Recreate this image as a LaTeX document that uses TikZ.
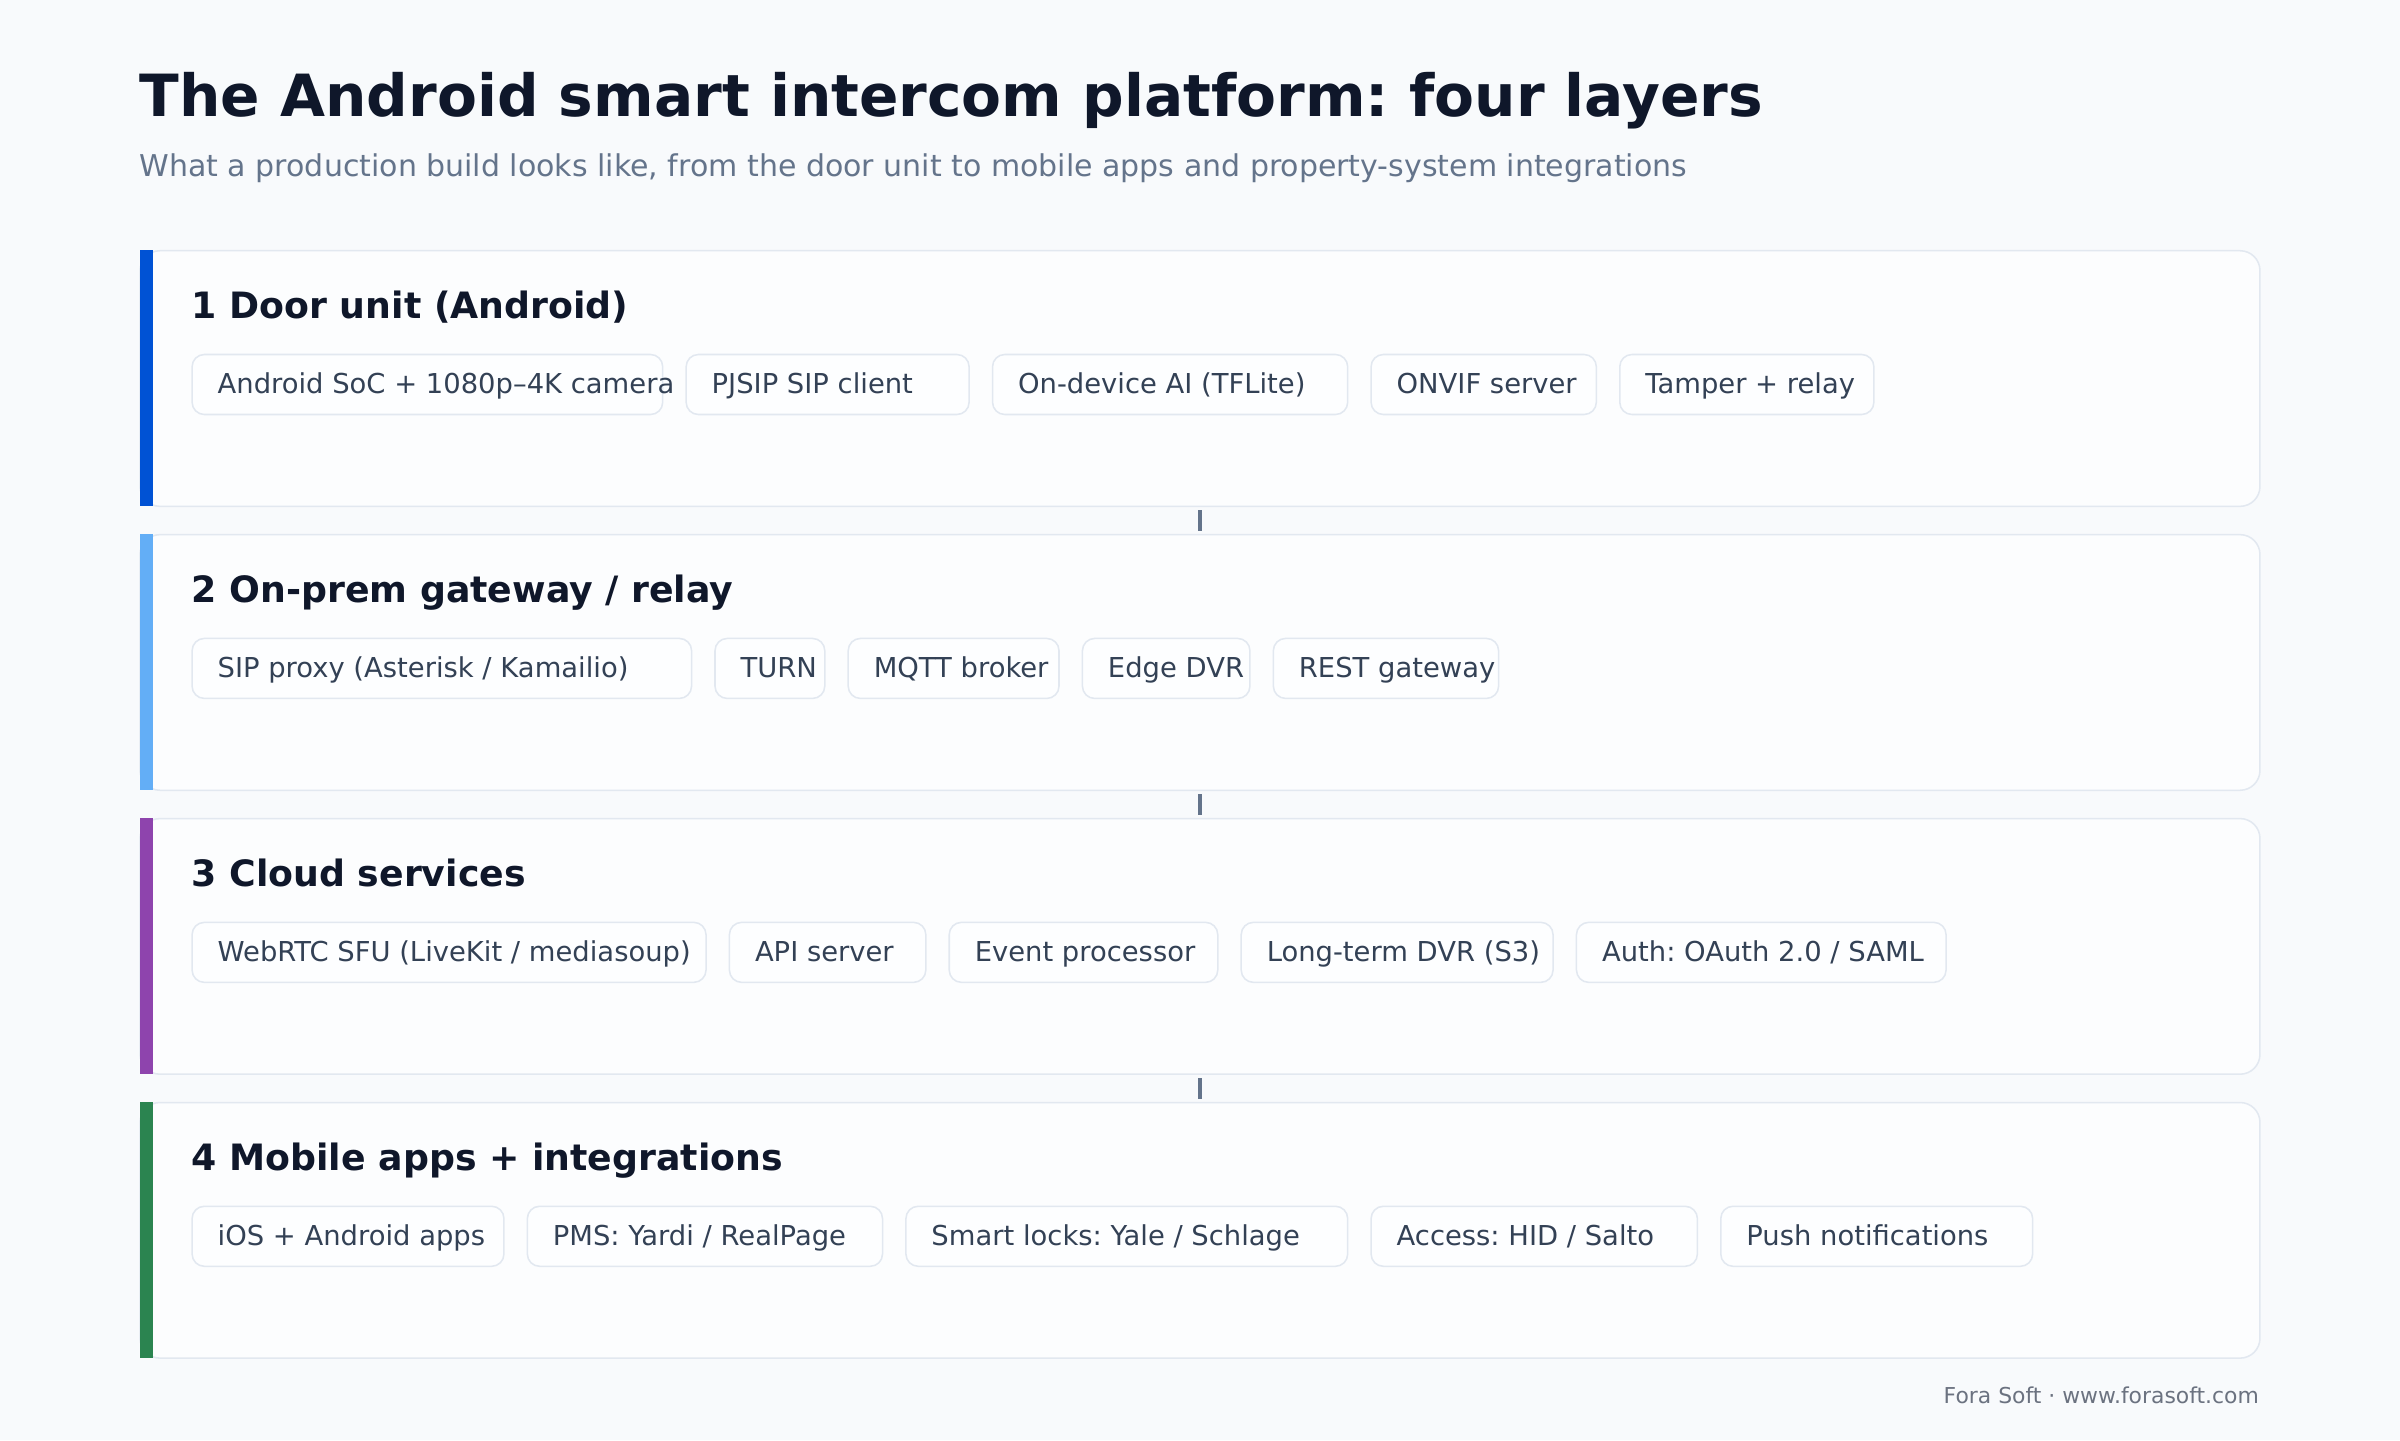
\documentclass[tikz,border=0pt]{standalone}
\usepackage{fontspec}
\setmainfont{DejaVu Sans}
\usetikzlibrary{calc}
\frenchspacing
\definecolor{bg}{HTML}{F8FAFC}
\definecolor{cardfill}{HTML}{FCFDFE}
\definecolor{chipfill}{HTML}{FDFEFF}
\definecolor{cardline}{HTML}{E2E8F0}
\definecolor{ink}{HTML}{0F172A}
\definecolor{subink}{HTML}{64748B}
\definecolor{chipink}{HTML}{334155}
\definecolor{footink}{HTML}{6B7280}
\definecolor{slate}{HTML}{64748B}
\definecolor{barA}{HTML}{0052D4}
\definecolor{barB}{HTML}{63AEF6}
\definecolor{barC}{HTML}{8E44AD}
\definecolor{barD}{HTML}{2B8450}
\newcommand\mkchip[5]{%
  \node[chip, minimum width=#4pt] (#1) at (#2,#3) {};
  \node[chiptext] (#1t) at ([xshift=17pt,yshift=-26.1pt]#1.north west) {#5};
}
\begin{document}
\begin{tikzpicture}[x=1pt,y=-1pt,
  card/.style={draw=cardline, line width=1pt, fill=cardfill, rounded corners=13pt, inner sep=0pt,
    minimum width=1385pt, minimum height=167pt, anchor=north west},
  bar/.style={fill=#1, draw=none, inner sep=0pt, minimum width=9pt, minimum height=167pt, anchor=north west},
  chip/.style={draw=cardline, line width=1pt, fill=chipfill, rounded corners=8pt, inner sep=0pt,
    minimum height=39.2pt, anchor=north west},
  chiptext/.style={font=\fontsize{17.9}{20}\selectfont, text=chipink, inner sep=0pt, anchor=base west},
  heading/.style={font=\fontsize{23.7}{28}\selectfont\bfseries, text=ink, inner sep=0pt, anchor=base west},
  titletext/.style={font=\fontsize{38}{44}\selectfont\bfseries, text=ink, inner sep=0pt, anchor=base west},
  subtext/.style={font=\fontsize{19.6}{23}\selectfont, text=subink, inner sep=0pt, anchor=base west},
  foottext/.style={font=\fontsize{14.3}{17}\selectfont, text=footink, inner sep=0pt, anchor=base east},
  conn/.style={draw=slate, line width=2pt}
]
\useasboundingbox[fill=bg] (0,0) rectangle (1568,940.8);

\node[titletext] (title) at (91,76.2) {The Android smart intercom platform: four layers};
\node[subtext] (sub) at (91,115) {What a production build looks like, from the door unit to mobile apps and property-system integrations};

% layer cards
\node[card] (L1) at (91,163.3) {};
\node[bar=barA] (B1) at (L1.north west) {};
\node[card] (L2) at (91,348.8) {};
\node[bar=barB] (B2) at (L2.north west) {};
\node[card] (L3) at (91,534.3) {};
\node[bar=barC] (B3) at (L3.north west) {};
\node[card] (L4) at (91,719.8) {};
\node[bar=barD] (B4) at (L4.north west) {};

% connectors
\draw[conn] ([yshift=-2pt]L1.south) -- ([yshift=2pt]L2.north);
\draw[conn] ([yshift=-2pt]L2.south) -- ([yshift=2pt]L3.north);
\draw[conn] ([yshift=-2pt]L3.south) -- ([yshift=2pt]L4.north);

% headings
\node[heading] (H1) at (125,208) {1 Door unit (Android)};
\node[heading] (H2) at (125,393.5) {2 On-prem gateway / relay};
\node[heading] (H3) at (125,579) {3 Cloud services};
\node[heading] (H4) at (125,764.5) {4 Mobile apps + integrations};

% row 1
\mkchip{c11}{125}{231.1}{307.47}{Android SoC + 1080p–4K camera}
\mkchip{c12}{447.77}{231.1}{184.88}{PJSIP SIP client}
\mkchip{c13}{647.95}{231.1}{232.03}{On-device AI (TFLite)}
\mkchip{c14}{895.28}{231.1}{147.16}{ONVIF server}
\mkchip{c15}{1057.74}{231.1}{166.02}{Tamper + relay}
% row 2
\mkchip{c21}{125}{416.6}{326.33}{SIP proxy (Asterisk / Kamailio)}
\mkchip{c22}{466.63}{416.6}{71.72}{TURN}
\mkchip{c23}{553.65}{416.6}{137.73}{MQTT broker}
\mkchip{c24}{706.68}{416.6}{109.44}{Edge DVR}
\mkchip{c25}{831.42}{416.6}{147.16}{REST gateway}
% row 3
\mkchip{c31}{125}{602.1}{335.76}{WebRTC SFU (LiveKit / mediasoup)}
\mkchip{c32}{476.06}{602.1}{128.3}{API server}
\mkchip{c33}{619.66}{602.1}{175.45}{Event processor}
\mkchip{c34}{810.41}{602.1}{203.74}{Long-term DVR (S3)}
\mkchip{c35}{1029.45}{602.1}{241.46}{Auth: OAuth 2.0 / SAML}
% row 4
\mkchip{c41}{125}{787.6}{203.74}{iOS + Android apps}
\mkchip{c42}{344.04}{787.6}{232.03}{PMS: Yardi / RealPage}
\mkchip{c43}{591.37}{787.6}{288.61}{Smart locks: Yale / Schlage}
\mkchip{c44}{895.28}{787.6}{213.17}{Access: HID / Salto}
\mkchip{c45}{1123.75}{787.6}{203.74}{Push notifications}

\node[foottext] (foot) at (1476,917) {Fora Soft · www.forasoft.com};
\end{tikzpicture}
\end{document}
